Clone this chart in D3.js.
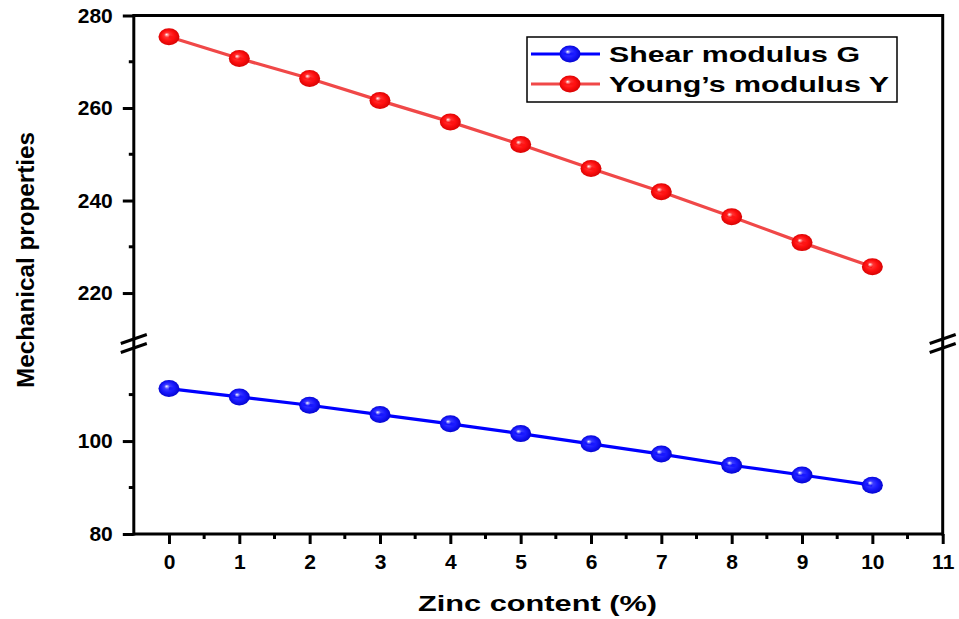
<!DOCTYPE html>
<html>
<head>
<meta charset="utf-8">
<script src="https://cdn.jsdelivr.net/npm/d3@7"></script>
<style>
  html, body { margin: 0; padding: 0; background: #fff; }
  svg { display: block; }
  text { font-family: "Liberation Sans", Arial, sans-serif; font-weight: bold; fill: #000; }
</style>
</head>
<body>
<svg id="chart" width="959" height="619"></svg>
<script>
// Zinc content (%) on the x axis
const zinc = [0, 1, 2, 3, 4, 5, 6, 7, 8, 9, 10];
// Shear modulus G (lower panel of the broken axis)
const shearG = [111.3, 109.5, 107.7, 105.7, 103.7, 101.6, 99.4, 97.2, 94.8, 92.7, 90.5];
// Young's modulus Y (upper panel of the broken axis)
const youngY = [275.4, 270.7, 266.4, 261.6, 257.0, 252.1, 246.9, 241.9, 236.5, 230.9, 225.7];

const xTicks = [0, 1, 2, 3, 4, 5, 6, 7, 8, 9, 10, 11];
const yTicksUpper = [220, 240, 260, 280];
const yTicksLower = [80, 100];
const seriesNames = ["Shear modulus G", "Young\u2019s modulus Y"];

const svg = d3.select("#chart");

const plotL = 133.8, plotR = 942.7, plotT = 15.5, plotB = 534, breakY = 343;

const x = d3.scaleLinear().domain([-0.5, 11]).range([plotL, plotR]);
const yUp = d3.scaleLinear().domain([209.2, 280]).range([breakY, plotT]);
const yLo = d3.scaleLinear().domain([80, 121.1]).range([plotB, breakY]);

// gradients for the shaded sphere markers
const defs = svg.append("defs");
function sphere(id, base, dark) {
  const g = defs.append("radialGradient").attr("id", id)
    .attr("cx", "50%").attr("cy", "50%").attr("r", "55%")
    .attr("fx", "38%").attr("fy", "36%");
  g.append("stop").attr("offset", "0%").attr("stop-color", "#ffffff");
  g.append("stop").attr("offset", "25%").attr("stop-color", base).attr("stop-opacity", 0.85);
  g.append("stop").attr("offset", "55%").attr("stop-color", base);
  g.append("stop").attr("offset", "100%").attr("stop-color", dark);
}
sphere("gBlue", "#1a1aff", "#0000c8");
sphere("gRed", "#ff1010", "#d00000");

// axes frame
const axisW = 3;
const frame = svg.append("g").attr("stroke", "#000").attr("stroke-width", axisW).attr("fill", "none");
frame.append("line").attr("x1", plotL).attr("x2", plotR).attr("y1", plotB).attr("y2", plotB);
frame.append("line").attr("x1", plotL).attr("x2", plotR).attr("y1", plotT).attr("y2", plotT);
frame.append("line").attr("x1", plotL).attr("x2", plotL).attr("y1", plotT - 1.5).attr("y2", plotB + 1.5);
frame.append("line").attr("x1", plotR).attr("x2", plotR).attr("y1", plotT - 1.5).attr("y2", plotB + 1.5);

const tickFont = "21px";

// x axis
const xAxis = d3.axisBottom(x).tickValues(xTicks).tickSize(10).tickPadding(10).tickFormat(d3.format("d"));
const gx = svg.append("g").attr("transform", `translate(0,${plotB})`).call(xAxis);
gx.attr("font-size", null).attr("font-family", null);
gx.select(".domain").remove();
gx.selectAll(".tick line").attr("stroke-width", axisW);
gx.selectAll(".tick text").style("font-size", tickFont);
// minor x ticks
svg.append("g").selectAll("line").data(d3.range(-0.5, 11, 1).filter(v => v > -0.5))
  .join("line")
  .attr("x1", d => x(d)).attr("x2", d => x(d))
  .attr("y1", plotB).attr("y2", plotB + 5)
  .attr("stroke", "#000").attr("stroke-width", axisW);

// y axes (upper and lower segments)
function yAxisPart(scale, ticks) {
  const ax = d3.axisLeft(scale).tickValues(ticks).tickSize(11).tickPadding(10).tickFormat(d3.format("d"));
  const g = svg.append("g").attr("transform", `translate(${plotL},0)`).call(ax);
  g.attr("font-size", null).attr("font-family", null);
  g.select(".domain").remove();
  g.selectAll(".tick line").attr("stroke-width", axisW);
  g.selectAll(".tick text").style("font-size", tickFont);
}
yAxisPart(yUp, yTicksUpper);
yAxisPart(yLo, yTicksLower);
// minor y ticks
const minorUp = [230, 250, 270];
const minorLo = [90, 110];
svg.append("g").selectAll("line")
  .data(minorUp.map(v => yUp(v)).concat(minorLo.map(v => yLo(v))))
  .join("line")
  .attr("x1", plotL - 5).attr("x2", plotL).attr("y1", d => d).attr("y2", d => d)
  .attr("stroke", "#000").attr("stroke-width", axisW);

// break marks on both vertical axes
[plotL, plotR].forEach(ax => {
  [-4, 5].forEach(off => {
    svg.append("line")
      .attr("x1", ax - 13).attr("x2", ax + 13)
      .attr("y1", breakY + off + 4.5).attr("y2", breakY + off - 4.5)
      .attr("stroke", "#000").attr("stroke-width", 3);
  });
});

// series lines and markers
const series = [
  { values: shearG, scale: yLo, line: "#0000ff", grad: "url(#gBlue)" },
  { values: youngY, scale: yUp, line: "#f04848", grad: "url(#gRed)" }
];
series.forEach(s => {
  const line = d3.line().x((d, i) => x(zinc[i])).y(d => s.scale(d));
  svg.append("path").datum(s.values).attr("d", line)
    .attr("fill", "none").attr("stroke", s.line).attr("stroke-width", 3.2);
  svg.append("g").selectAll("ellipse").data(s.values).join("ellipse")
    .attr("cx", (d, i) => x(zinc[i])).attr("cy", d => s.scale(d))
    .attr("rx", 10.5).attr("ry", 8.5)
    .attr("fill", s.grad);
});

// legend
const lg = svg.append("g");
lg.append("rect").attr("x", 527).attr("y", 37).attr("width", 370).attr("height", 65)
  .attr("fill", "#fff").attr("stroke", "#000").attr("stroke-width", 1.5);
const legendRows = [
  { name: seriesNames[0], line: "#0000ff", grad: "url(#gBlue)", y: 54, len: 251 },
  { name: seriesNames[1], line: "#f04848", grad: "url(#gRed)", y: 84, len: 280 }
];
legendRows.forEach(r => {
  lg.append("line").attr("x1", 531).attr("x2", 600).attr("y1", r.y).attr("y2", r.y)
    .attr("stroke", r.line).attr("stroke-width", 3.2);
  lg.append("ellipse").attr("cx", 570).attr("cy", r.y).attr("rx", 10.5).attr("ry", 8.5).attr("fill", r.grad);
  lg.append("text").attr("x", 609).attr("y", r.y).attr("dy", "0.36em")
    .attr("textLength", r.len).attr("lengthAdjust", "spacingAndGlyphs")
    .style("font-size", "22px").text(r.name);
});

// axis titles
svg.append("text").attr("x", 418).attr("y", 603).attr("dy", "0.36em")
  .attr("textLength", 239).attr("lengthAdjust", "spacingAndGlyphs")
  .style("font-size", "22px").text("Zinc content (%)");
svg.append("text").attr("transform", "translate(25,260) rotate(-90)").attr("dy", "0.36em")
  .attr("x", -128)
  .attr("textLength", 256).attr("lengthAdjust", "spacingAndGlyphs")
  .style("font-size", "24px")
  .text("Mechanical properties");
</script>
</body>
</html>
